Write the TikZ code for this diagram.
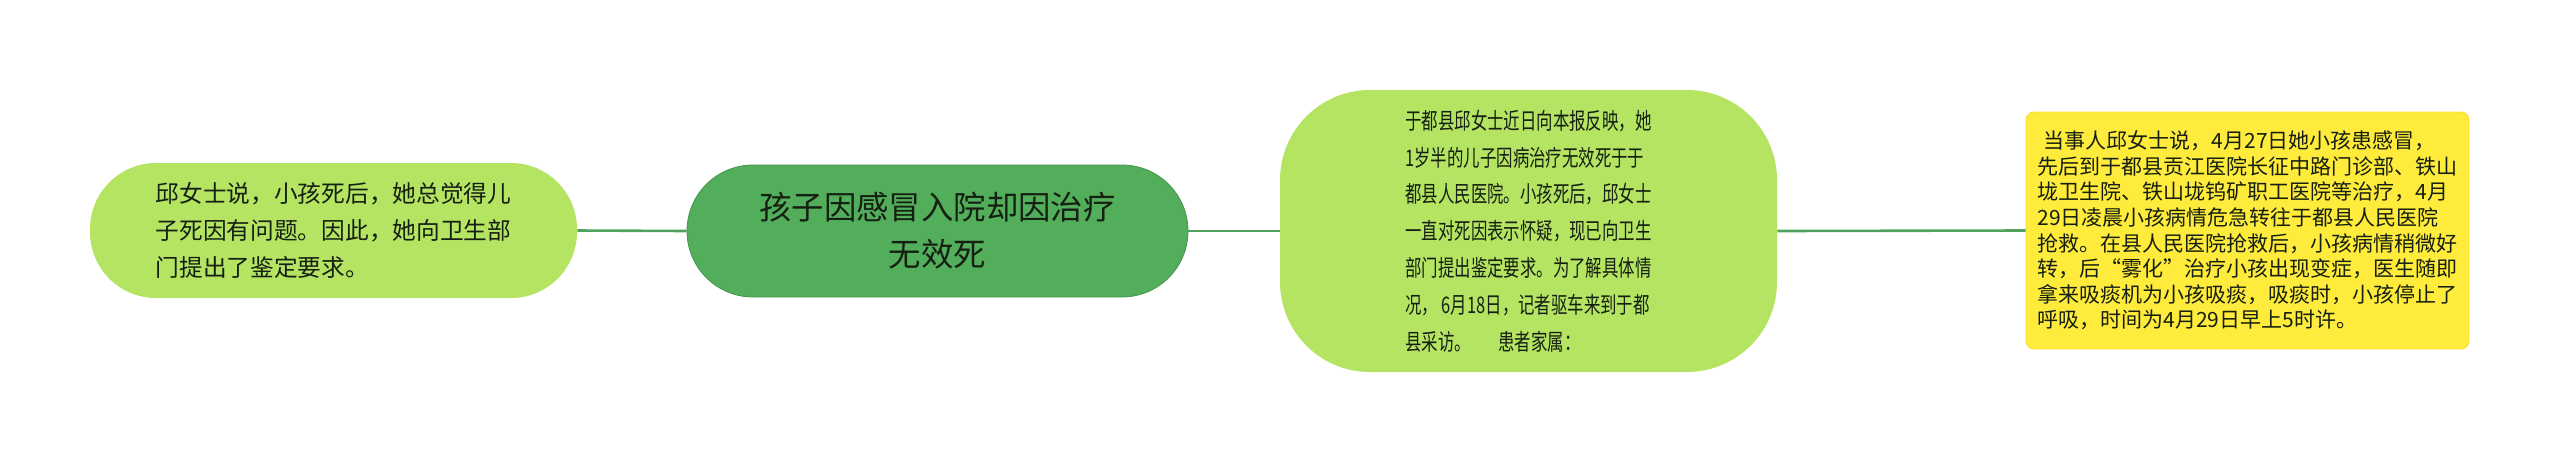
\documentclass[tikz,border=0pt]{standalone}
\usepackage{fontspec}
\newfontfamily\cjk{Noto Sans CJK SC}
\newfontfamily\cjknarrow[FakeStretch=0.72]{Noto Sans CJK SC}
\definecolor{leafgreen}{HTML}{B5E463}
\definecolor{topicgreen}{HTML}{52AE5B}
\definecolor{linkgreen}{HTML}{50A35C}
\definecolor{noteyellow}{HTML}{FFEB3B}
\definecolor{inkdark}{HTML}{151F12}

\begin{document}
\begin{tikzpicture}[x=0.5pt, y=-0.5pt,
    topic/.style={fill=topicgreen, draw=topicgreen!85!black, line width=0.4pt,
      rounded corners=33pt, minimum width=250.5pt, minimum height=66pt,
      inner sep=0pt, align=center, text=inkdark,
      font=\cjk\fontsize{16.2pt}{23.5pt}\selectfont},
    leaf/.style={fill=leafgreen, draw=none, inner sep=0pt, align=left, text=inkdark},
    note/.style={fill=noteyellow, draw=noteyellow!85!orange, line width=0.4pt,
      rounded corners=4pt, minimum width=221.5pt, minimum height=118.5pt,
      inner sep=0pt, align=left, text=inkdark,
      font=\cjk\fontsize{10.5pt}{12.8pt}\selectfont},
    link/.style={draw=linkgreen, line width=1.3pt}]
  \useasboundingbox (0,0) rectangle (2560,462);

  % Main topic
  \node[topic] (main) at (937.5,231) {孩子因感冒入院却因治疗\\无效死};

  % Left branch
  \node[leaf, rounded corners=33pt, minimum width=243.5pt, minimum height=67.5pt,
    font=\cjk\fontsize{11.85pt}{18.5pt}\selectfont] (mother) at (333.5,230.5)
    {邱女士说，小孩死后，她总觉得儿\\子死因有问题。因此，她向卫生部\\门提出了鉴定要求。};

  % Right branch
  \node[leaf, rounded corners=45pt, minimum width=248.5pt, minimum height=141pt,
    font=\cjknarrow\fontsize{11.4pt}{18.4pt}\selectfont] (report) at (1528.5,231)
    {于都县邱女士近日向本报反映，她\\1岁半的儿子因病治疗无效死于于\\都县人民医院。小孩死后，邱女士\\一直对死因表示怀疑，现已向卫生\\部门提出鉴定要求。为了解具体情\\况， 6月18日，记者驱车来到于都\\县采访。\hspace{1.2em}患者家属：};

  \node[note] (family) at (2247.5,230.5)
    {\hspace{0.3em}当事人邱女士说，4月27日她小孩患感冒，\\先后到于都县贡江医院长征中路门诊部、铁山\\垅卫生院、铁山垅钨矿职工医院等治疗，4月\\29日凌晨小孩病情危急转往于都县人民医院\\抢救。在县人民医院抢救后，小孩病情稍微好\\转，后“雾化”治疗小孩出现变症，医生随即\\拿来吸痰机为小孩吸痰，吸痰时，小孩停止了\\呼吸，时间为4月29日早上5时许。};

  % Connectors
  \draw[link] (mother.east) -- (main.west);
  \draw[link] (main.east) -- (report.west);
  \draw[link] (report.east) -- (family.west);
\end{tikzpicture}
\end{document}
